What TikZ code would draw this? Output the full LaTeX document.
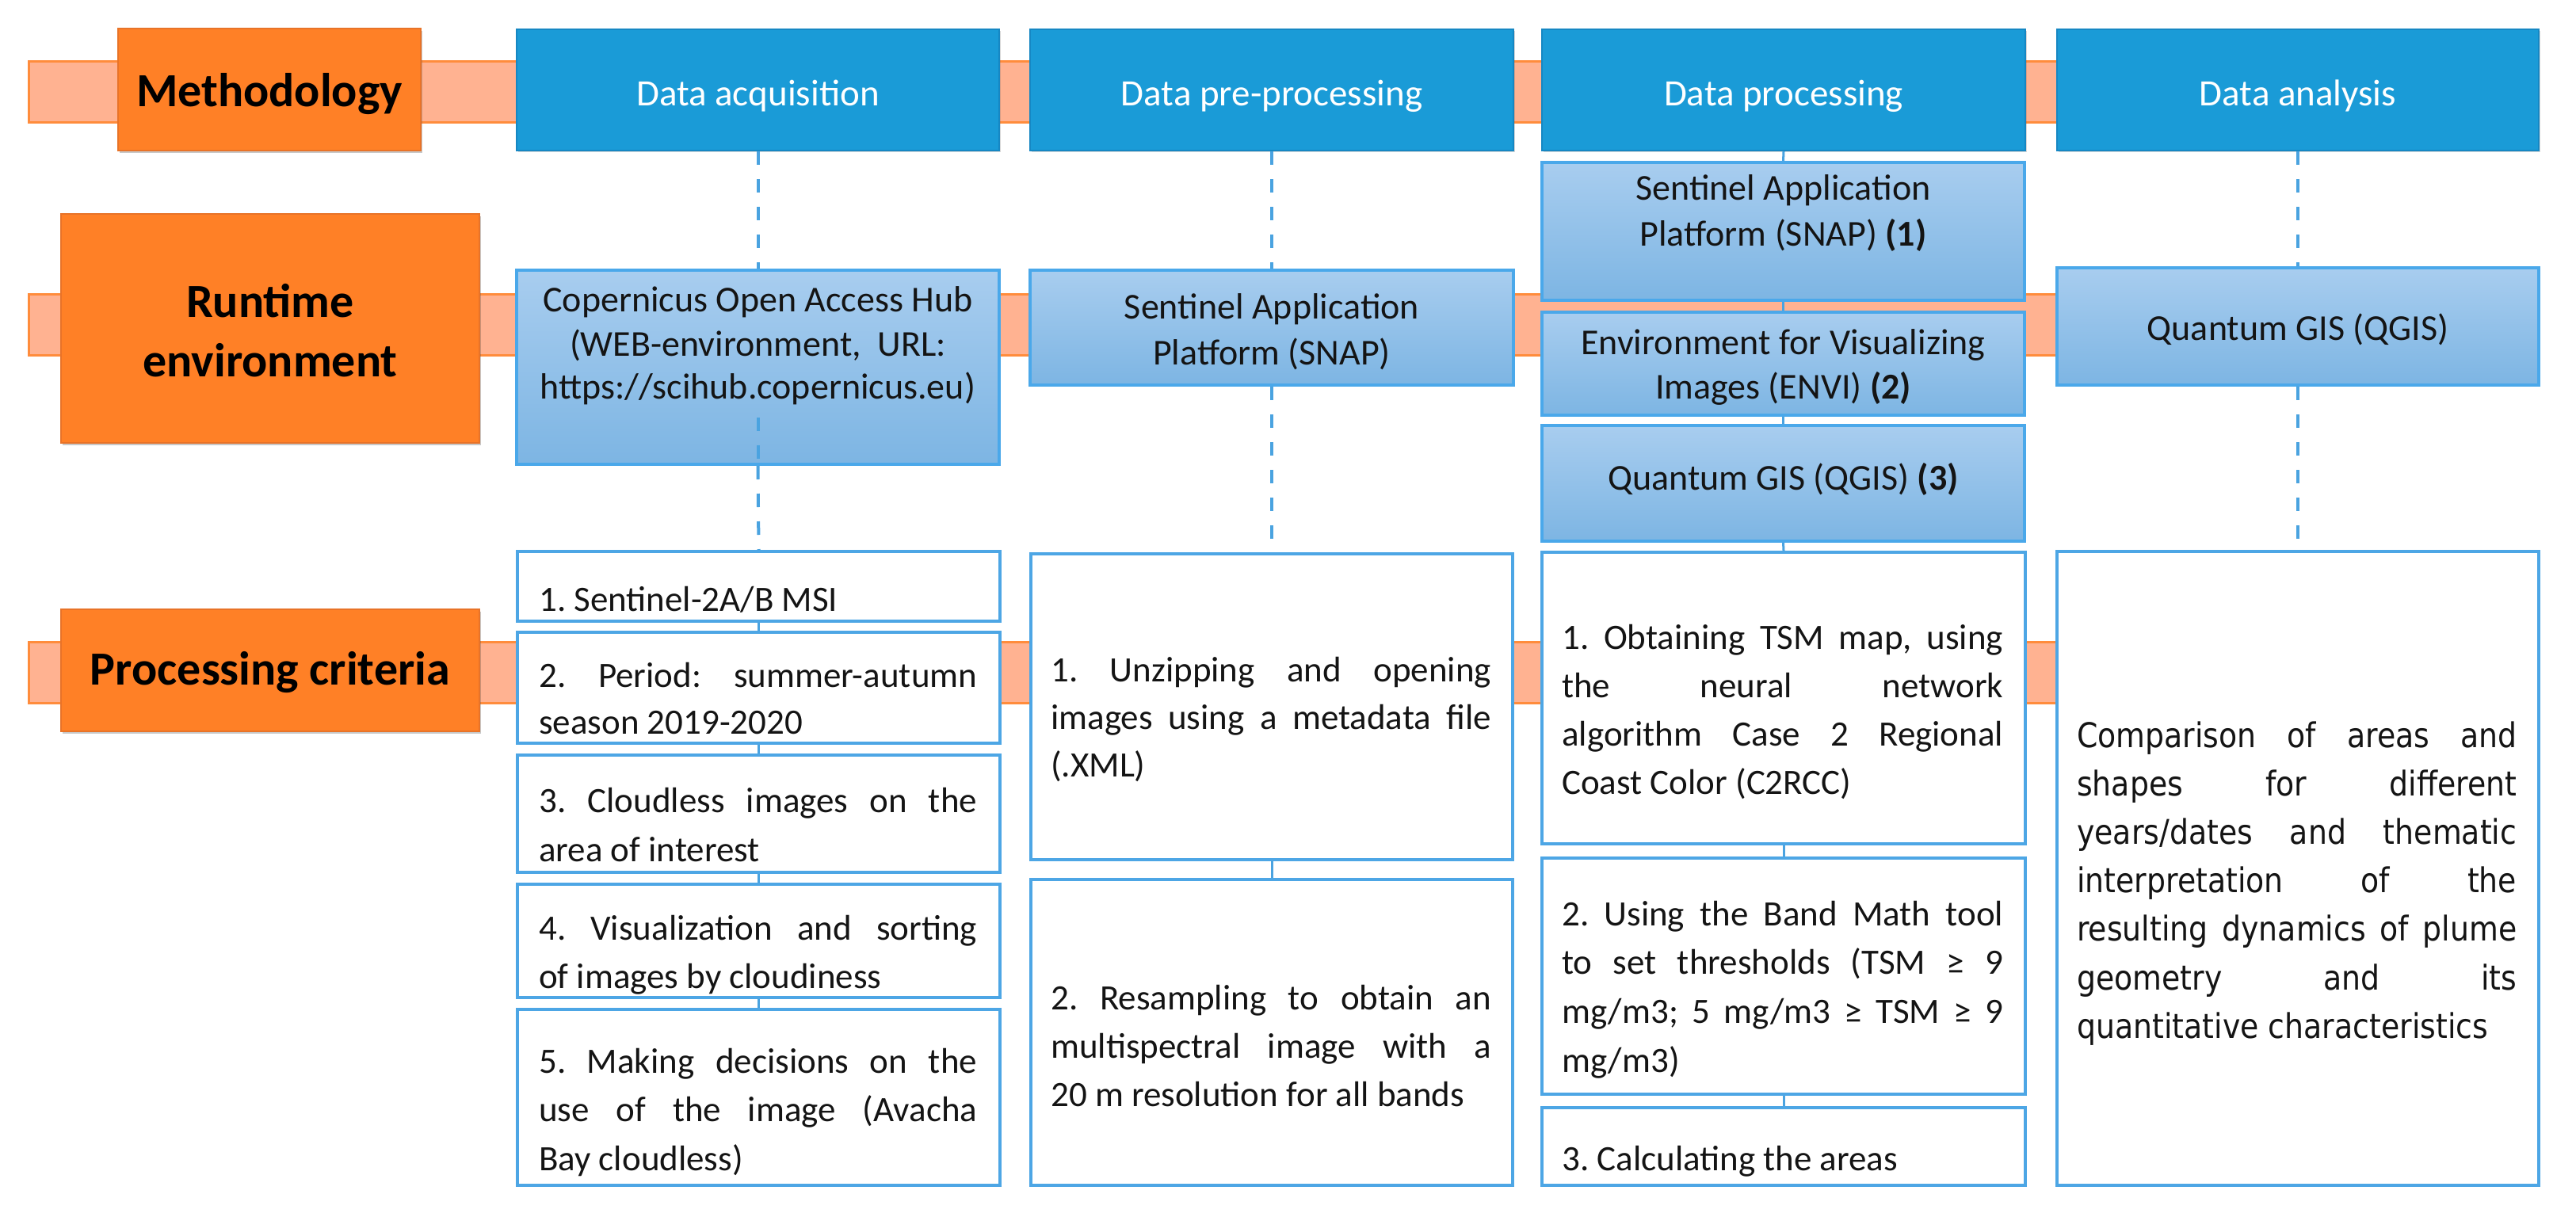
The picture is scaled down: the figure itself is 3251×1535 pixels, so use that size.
\documentclass[tikz,border=0pt]{standalone}
\usepackage{fontspec}
\setmainfont{Carlito}
\newfontfamily\vfont[FakeStretch=0.88]{DejaVu Sans}
\usetikzlibrary{shadows}
\definecolor{orF}{RGB}{255,128,38}
\definecolor{orD}{RGB}{232,115,40}
\definecolor{bandF}{RGB}{255,178,145}
\definecolor{bandD}{RGB}{255,140,60}
\definecolor{hdF}{RGB}{26,155,215}
\definecolor{hdD}{RGB}{22,135,195}
\definecolor{ltT}{RGB}{168,205,239}
\definecolor{ltB}{RGB}{125,181,227}
\definecolor{ltD}{RGB}{74,168,234}
\definecolor{wbD}{RGB}{77,166,229}
\definecolor{dsh}{RGB}{74,163,224}
\definecolor{txt}{RGB}{20,20,20}
\frenchspacing
\newdimen\lw
\newcommand\J[1]{\hbox to\lw{#1}}
\newcommand\Lf[1]{\hbox to\lw{#1\hfil}}
\newcommand\tb[3]{\vtop{\lw=#1\relax\baselineskip=#2\relax #3}}
\begin{document}
\begin{tikzpicture}[x=1pt,y=-1pt,
  bandst/.style={fill=bandF,draw=bandD,line width=3pt},
  lblbox/.style={draw=orD,fill=orF,line width=2pt,inner sep=0,
    drop shadow={shadow xshift=2pt,shadow yshift=-3pt,opacity=.3,fill=black!70}},
  hdbox/.style={draw=hdD,fill=hdF,line width=2pt,inner sep=0,
    drop shadow={shadow xshift=2pt,shadow yshift=-2pt,opacity=.25,fill=black!60}},
  ltbox/.style={draw=ltD,top color=ltT,bottom color=ltB,line width=4pt,inner sep=0},
  wbox/.style={draw=wbD,fill=white,line width=4pt,inner sep=0},
  dashln/.style={draw=dsh,line width=4pt,dash pattern=on 17pt off 18pt},
  conn/.style={draw=dsh,line width=3pt},
  lbltxt/.style={anchor=base,inner sep=0,text=black,font=\fontsize{60}{72}\selectfont\bfseries},
  hdtxt/.style={anchor=base,inner sep=0,text=white,font=\fontsize{47}{56}\selectfont},
  ltxt/.style={anchor=base,inner sep=0,text=txt,font=\fontsize{46}{54}\selectfont},
  btxt/.style={anchor=base west,inner sep=0,text=txt,font=\fontsize{45}{54}\selectfont},
  vtxt/.style={anchor=base west,inner sep=0,text=txt,font=\fontsize{43}{52}\selectfont\vfont}]
\useasboundingbox (0,0) rectangle (3251,1535);
\fill[white] (0,0) rectangle (3251,1535);
% bands
\path[bandst] (36,77) rectangle (3127,154);
\path[bandst] (36,371) rectangle (3127,448);
\path[bandst] (36,810) rectangle (3127,887);
% row labels
\node[lblbox,minimum width=382pt,minimum height=154pt] (m) at (340,113) {};
\node[lblbox,minimum width=528pt,minimum height=289pt] (re) at (341,414.5) {};
\node[lblbox,minimum width=528pt,minimum height=154pt] (pc) at (341,846) {};
% headers
\node[hdbox,minimum width=609pt,minimum height=153pt] (h1) at (956.5,113.5) {};
\node[hdbox,minimum width=610pt,minimum height=153pt] (h2) at (1605,113.5) {};
\node[hdbox,minimum width=610pt,minimum height=153pt] (h3) at (2251,113.5) {};
\node[hdbox,minimum width=608pt,minimum height=153pt] (h4) at (2900,113.5) {};
% runtime boxes
\node[ltbox,minimum width=609pt,minimum height=245pt] (r1) at (956.5,463.5) {};
\node[ltbox,minimum width=610pt,minimum height=145pt] (r2) at (1605,413.5) {};
\node[ltbox,minimum width=609pt,minimum height=174pt] (r3a) at (2250.5,292) {};
\node[ltbox,minimum width=609pt,minimum height=130pt] (r3b) at (2250.5,459) {};
\node[ltbox,minimum width=609pt,minimum height=146pt] (r3c) at (2250.5,610) {};
\node[ltbox,minimum width=608pt,minimum height=148pt] (r4) at (2900,412) {};
% criteria boxes
\node[wbox,minimum width=609pt,minimum height=88pt] (c1a) at (957.5,740) {};
\node[wbox,minimum width=609pt,minimum height=140pt] (c1b) at (957.5,868) {};
\node[wbox,minimum width=609pt,minimum height=148pt] (c1c) at (957.5,1027) {};
\node[wbox,minimum width=609pt,minimum height=143pt] (c1d) at (957.5,1187.5) {};
\node[wbox,minimum width=609pt,minimum height=222pt] (c1e) at (957.5,1385) {};
\node[wbox,minimum width=608pt,minimum height=386pt] (c2a) at (1605,892) {};
\node[wbox,minimum width=608pt,minimum height=386pt] (c2b) at (1605,1303) {};
\node[wbox,minimum width=610pt,minimum height=368pt] (c3a) at (2251,881) {};
\node[wbox,minimum width=610pt,minimum height=298pt] (c3b) at (2251,1232) {};
\node[wbox,minimum width=610pt,minimum height=98pt] (c3c) at (2251,1447) {};
\node[wbox,minimum width=608pt,minimum height=800pt] (c4) at (2900,1096) {};
% connectors
\draw[dashln] (h1.south) -- (r1.north);
\coordinate (c1in) at (956.5,527);
\draw[dashln] (c1in) -- (r1.south);
\draw[dashln] (r1.south) -- (c1a.north);
\draw[conn] (c1a.south) -- (c1b.north);
\draw[conn] (c1b.south) -- (c1c.north);
\draw[conn] (c1c.south) -- (c1d.north);
\draw[conn] (c1d.south) -- (c1e.north);
\draw[dashln] (h2.south) -- (r2.north);
\draw[dashln] (r2.south) -- (c2a.north);
\draw[conn] (c2a.south) -- (c2b.north);
\draw[conn] (h3.south) -- (r3a.north);
\draw[conn] (r3a.south) -- (r3b.north);
\draw[conn] (r3b.south) -- (r3c.north);
\draw[conn] (r3c.south) -- (c3a.north);
\draw[conn] (c3a.south) -- (c3b.north);
\draw[conn] (c3b.south) -- (c3c.north);
\draw[dashln] (h4.south) -- (r4.north);
\draw[dashln] (r4.south) -- (c4.north);
% label texts
\node[lbltxt] (mt) at (340,134) {Methodology};
\node[lbltxt] (ret1) at (341,400) {Runtime};
\node[lbltxt] (ret2) at (341,475) {environment};
\node[lbltxt] (pct) at (341,864) {Processing criteria};
% header texts
\node[hdtxt] (h1t) at (956.5,133) {Data acquisition};
\node[hdtxt] (h2t) at (1605,133) {Data pre-processing};
\node[hdtxt] (h3t) at (2251,133) {Data processing};
\node[hdtxt] (h4t) at (2900,133) {Data analysis};
% runtime texts
\node[ltxt] (r1t1) at (956.5,393) {Copernicus Open Access Hub};
\node[ltxt] (r1t2) at (956.5,449) {(WEB-environment,\ \ URL:};
\node[ltxt] (r1t3) at (956.5,503) {https://scihub.copernicus.eu)};
\node[ltxt] (r2t1) at (1605,402) {Sentinel Application};
\node[ltxt] (r2t2) at (1605,460) {Platform (SNAP)};
\node[ltxt] (r3at1) at (2250.5,252) {Sentinel Application};
\node[ltxt] (r3at2) at (2250.5,310) {Platform (SNAP) \textbf{(1)}};
\node[ltxt] (r3bt1) at (2250.5,447) {Environment for Visualizing};
\node[ltxt] (r3bt2) at (2250.5,503) {Images (ENVI) \textbf{(2)}};
\node[ltxt] (r3ct) at (2250.5,618) {Quantum GIS (QGIS) \textbf{(3)}};
\node[ltxt] (r4t) at (2900,429) {Quantum GIS (QGIS)};
% criteria texts
\node[btxt] (c1at) at (680,771) {\tb{553pt}{61pt}{\Lf{1. Sentinel-2A/B MSI}}};
\node[btxt] (c1bt) at (680,867) {\tb{553pt}{59pt}{\J{2. Period: summer-autumn}\Lf{season 2019-2020}}};
\node[btxt] (c1ct) at (680,1025) {\tb{553pt}{62pt}{\J{3. Cloudless images on the}\Lf{area of interest}}};
\node[btxt] (c1dt) at (680,1186) {\tb{553pt}{61pt}{\J{4. Visualization and sorting}\Lf{of images by cloudiness}}};
\node[btxt] (c1et) at (680,1354) {\tb{553pt}{61.5pt}{\J{5. Making decisions on the}\J{use of the image (Avacha}\Lf{Bay cloudless)}}};
\node[btxt] (c2at) at (1326,860) {\tb{556pt}{60pt}{\J{1. Unzipping and opening}\J{images using a metadata file}\Lf{(.XML)}}};
\node[btxt] (c2bt) at (1326,1274) {\tb{556pt}{61pt}{\J{2. Resampling to obtain an}\J{multispectral image with a}\Lf{20 m resolution for all bands}}};
\node[btxt] (c3at) at (1971,819) {\tb{557pt}{61.3pt}{\J{1. Obtaining TSM map, using}\J{the neural network}\J{algorithm Case 2 Regional}\Lf{Coast Color (C2RCC)}}};
\node[btxt] (c3bt) at (1971,1168) {\tb{557pt}{61.7pt}{\J{2. Using the Band Math tool}\J{to set thresholds (TSM ≥ 9}\J{mg/m3; 5 mg/m3 ≥ TSM ≥ 9}\Lf{mg/m3)}}};
\node[btxt] (c3ct) at (1971,1477) {\tb{557pt}{61pt}{\Lf{3. Calculating the areas}}};
\node[vtxt] (c4t) at (2621,943) {\tb{555pt}{61.2pt}{\J{Comparison of areas and}\J{shapes for different}\J{years/dates and thematic}\J{interpretation of the}\J{resulting dynamics of plume}\J{geometry and its}\Lf{quantitative characteristics}}};
\end{tikzpicture}
\end{document}
